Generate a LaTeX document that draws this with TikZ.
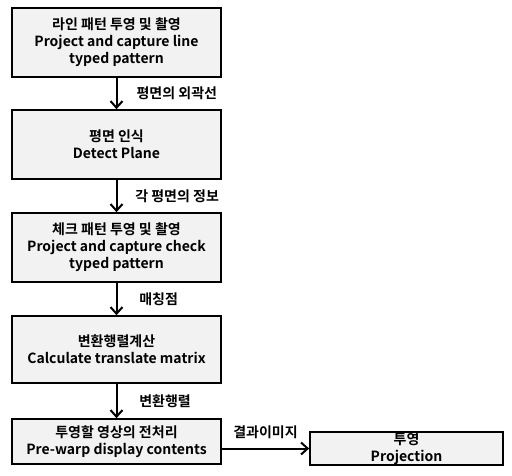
\documentclass[tikz,border=0pt]{standalone}
\usepackage{fontspec}
\setmainfont{Noto Sans CJK KR}[BoldFont={Noto Sans CJK KR Bold}]
\usepackage{tikz}
\usetikzlibrary{arrows.meta}
\definecolor{boxgray}{RGB}{242,242,242}
\tikzset{
	stepbox/.style={draw=black, line width=1.2pt, fill=boxgray, align=center,
		font=\bfseries\fontsize{10.5}{12.8}\selectfont, inner sep=0pt},
	flow/.style={line width=1.5pt, -{Straight Barb[length=5pt,width=9pt]}},
	flowlabel/.style={font=\bfseries\fontsize{10.5}{12}\selectfont}
}

\begin{document}
\begin{tikzpicture}[x=0.75pt,y=-0.75pt]
	\useasboundingbox (0,0) rectangle (512,476);
	\node [stepbox, minimum width=209*0.75pt, minimum height=69*0.75pt] (line) at (116.5,42.5)
		{라인 패턴 투영 및 촬영\\Project and capture line\\typed pattern};
	\node [stepbox, minimum width=209*0.75pt, minimum height=69*0.75pt] (plane) at (116.5,144.5)
		{평면 인식\\Detect Plane};
	\node [stepbox, minimum width=209*0.75pt, minimum height=69*0.75pt] (check) at (116.5,247.5)
		{체크 패턴 투영 및 촬영\\Project and capture check\\typed pattern};
	\node [stepbox, minimum width=209*0.75pt, minimum height=67*0.75pt] (matrix) at (116.5,349.5)
		{변환행렬계산\\Calculate translate matrix};
	\node [stepbox, minimum width=209*0.75pt, minimum height=45*0.75pt] (warp) at (116.5,441.5)
		{투영할 영상의 전처리\\Pre-warp display contents};
	\node [stepbox, minimum width=193*0.75pt, minimum height=33*0.75pt] (proj) at (406.5,448.5)
		{투영\\Projection};
	\draw [flow] (line) -- node[flowlabel, right=11pt] {평면의 외곽선} (plane);
	\draw [flow] (plane) -- node[flowlabel, right=10pt] {각 평면의 정보} (check);
	\draw [flow] (check) -- node[flowlabel, right=13pt] {매칭점} (matrix);
	\draw [flow] (matrix) -- node[flowlabel, right=13pt] {변환행렬} (warp);
	\draw [flow] (warp.east |- proj) -- node[flowlabel, above=3pt] {결과이미지} (proj);
\end{tikzpicture}
\end{document}
